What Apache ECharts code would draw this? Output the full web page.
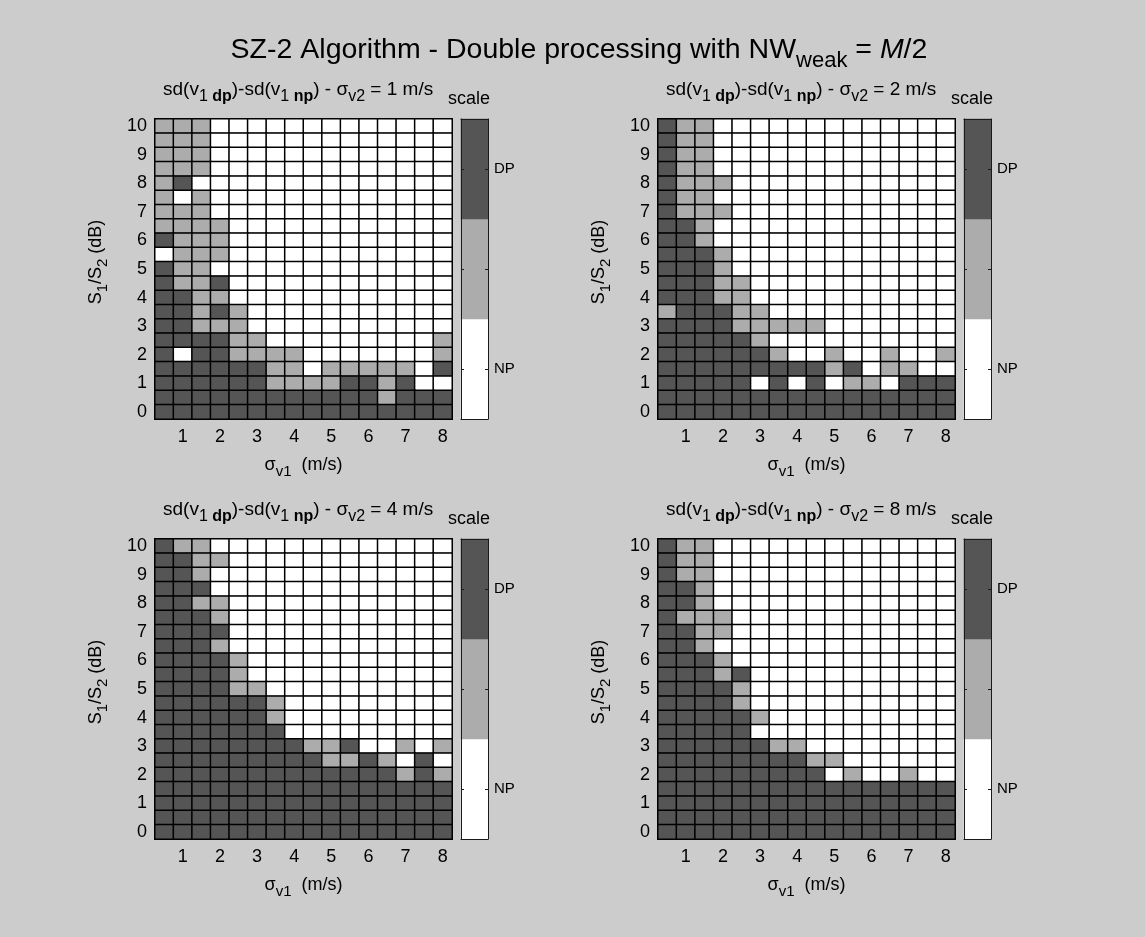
<!DOCTYPE html>
<html>
<head>
<meta charset="utf-8">
<script src="https://cdn.jsdelivr.net/npm/echarts@6/dist/echarts.min.js"></script>
<style>
  html, body { margin: 0; padding: 0; background: #cccccc; }
  #chart { width: 1145px; height: 937px; }
</style>
</head>
<body>
<div id="chart"></div>
<script>
// Grid axes: sigma_v1 (m/s) across, S1/S2 (dB) up
const sigmaV1 = ['0.5','1','1.5','2','2.5','3','3.5','4','4.5','5','5.5','6','6.5','7','7.5','8'];
const snrDb = ['0','0.5','1','1.5','2','2.5','3','3.5','4','4.5','5','5.5','6','6.5','7','7.5','8','8.5','9','9.5','10'];
const sigmaV2 = [1, 2, 4, 8];
const scaleLabels = ['NP', '', 'DP'];   // colour-bar levels, bottom to top
const scaleLevels = [0, 1, 2];          // 0 = NP, 1 = between, 2 = DP

// Each map: rows from S1/S2 = 10 dB (top) down to 0 dB; columns sigma_v1 = 0.5 ... 8 m/s
const mapSv2_1 = [
  [1,1,1,0,0,0,0,0,0,0,0,0,0,0,0,0],
  [1,1,1,0,0,0,0,0,0,0,0,0,0,0,0,0],
  [1,1,1,0,0,0,0,0,0,0,0,0,0,0,0,0],
  [1,1,1,0,0,0,0,0,0,0,0,0,0,0,0,0],
  [1,2,0,0,0,0,0,0,0,0,0,0,0,0,0,0],
  [1,0,1,0,0,0,0,0,0,0,0,0,0,0,0,0],
  [1,1,1,0,0,0,0,0,0,0,0,0,0,0,0,0],
  [1,1,1,1,0,0,0,0,0,0,0,0,0,0,0,0],
  [2,1,1,1,0,0,0,0,0,0,0,0,0,0,0,0],
  [0,1,1,1,0,0,0,0,0,0,0,0,0,0,0,0],
  [2,1,1,0,0,0,0,0,0,0,0,0,0,0,0,0],
  [2,1,1,2,0,0,0,0,0,0,0,0,0,0,0,0],
  [2,2,1,1,0,0,0,0,0,0,0,0,0,0,0,0],
  [2,2,1,2,1,0,0,0,0,0,0,0,0,0,0,0],
  [2,2,1,1,1,0,0,0,0,0,0,0,0,0,0,0],
  [2,2,2,2,1,1,0,0,0,0,0,0,0,0,0,1],
  [2,0,2,2,1,1,1,1,0,0,0,0,0,0,0,1],
  [2,2,2,2,2,2,1,1,0,1,1,1,1,1,0,2],
  [2,2,2,2,2,2,1,1,1,1,2,2,1,2,0,0],
  [2,2,2,2,2,2,2,2,2,2,2,2,1,2,2,2],
  [2,2,2,2,2,2,2,2,2,2,2,2,2,2,2,2]
];
const mapSv2_2 = [
  [2,1,1,0,0,0,0,0,0,0,0,0,0,0,0,0],
  [2,1,1,0,0,0,0,0,0,0,0,0,0,0,0,0],
  [2,1,1,0,0,0,0,0,0,0,0,0,0,0,0,0],
  [2,1,1,0,0,0,0,0,0,0,0,0,0,0,0,0],
  [2,1,1,1,0,0,0,0,0,0,0,0,0,0,0,0],
  [2,1,1,0,0,0,0,0,0,0,0,0,0,0,0,0],
  [2,1,1,1,0,0,0,0,0,0,0,0,0,0,0,0],
  [2,2,1,0,0,0,0,0,0,0,0,0,0,0,0,0],
  [2,2,1,0,0,0,0,0,0,0,0,0,0,0,0,0],
  [2,2,2,1,0,0,0,0,0,0,0,0,0,0,0,0],
  [2,2,2,1,0,0,0,0,0,0,0,0,0,0,0,0],
  [2,2,2,1,1,0,0,0,0,0,0,0,0,0,0,0],
  [2,2,2,1,1,0,0,0,0,0,0,0,0,0,0,0],
  [1,2,2,2,1,1,0,0,0,0,0,0,0,0,0,0],
  [2,2,2,2,1,1,1,1,1,0,0,0,0,0,0,0],
  [2,2,2,2,2,1,0,0,0,0,0,0,0,0,0,0],
  [2,2,2,2,2,2,1,0,0,1,0,0,1,0,0,1],
  [2,2,2,2,2,2,2,2,2,1,2,0,1,1,0,0],
  [2,2,2,2,2,0,2,0,2,0,1,1,0,2,2,2],
  [2,2,2,2,2,2,2,2,2,2,2,2,2,2,2,2],
  [2,2,2,2,2,2,2,2,2,2,2,2,2,2,2,2]
];
const mapSv2_4 = [
  [2,1,1,0,0,0,0,0,0,0,0,0,0,0,0,0],
  [2,2,1,1,0,0,0,0,0,0,0,0,0,0,0,0],
  [2,2,1,0,0,0,0,0,0,0,0,0,0,0,0,0],
  [2,2,2,0,0,0,0,0,0,0,0,0,0,0,0,0],
  [2,2,1,1,0,0,0,0,0,0,0,0,0,0,0,0],
  [2,2,2,1,0,0,0,0,0,0,0,0,0,0,0,0],
  [2,2,2,2,0,0,0,0,0,0,0,0,0,0,0,0],
  [2,2,2,1,0,0,0,0,0,0,0,0,0,0,0,0],
  [2,2,2,2,1,0,0,0,0,0,0,0,0,0,0,0],
  [2,2,2,2,1,0,0,0,0,0,0,0,0,0,0,0],
  [2,2,2,2,1,1,0,0,0,0,0,0,0,0,0,0],
  [2,2,2,2,2,2,1,0,0,0,0,0,0,0,0,0],
  [2,2,2,2,2,2,1,0,0,0,0,0,0,0,0,0],
  [2,2,2,2,2,2,2,0,0,0,0,0,0,0,0,0],
  [2,2,2,2,2,2,2,2,1,1,2,0,0,1,0,1],
  [2,2,2,2,2,2,2,2,2,1,1,2,1,0,2,0],
  [2,2,2,2,2,2,2,2,2,2,2,2,2,1,2,1],
  [2,2,2,2,2,2,2,2,2,2,2,2,2,2,2,2],
  [2,2,2,2,2,2,2,2,2,2,2,2,2,2,2,2],
  [2,2,2,2,2,2,2,2,2,2,2,2,2,2,2,2],
  [2,2,2,2,2,2,2,2,2,2,2,2,2,2,2,2]
];
const mapSv2_8 = [
  [2,1,1,0,0,0,0,0,0,0,0,0,0,0,0,0],
  [2,1,1,0,0,0,0,0,0,0,0,0,0,0,0,0],
  [2,1,1,0,0,0,0,0,0,0,0,0,0,0,0,0],
  [2,2,1,0,0,0,0,0,0,0,0,0,0,0,0,0],
  [2,2,1,0,0,0,0,0,0,0,0,0,0,0,0,0],
  [2,1,1,1,0,0,0,0,0,0,0,0,0,0,0,0],
  [2,2,1,1,0,0,0,0,0,0,0,0,0,0,0,0],
  [2,2,1,0,0,0,0,0,0,0,0,0,0,0,0,0],
  [2,2,2,1,0,0,0,0,0,0,0,0,0,0,0,0],
  [2,2,2,1,2,0,0,0,0,0,0,0,0,0,0,0],
  [2,2,2,2,1,0,0,0,0,0,0,0,0,0,0,0],
  [2,2,2,2,1,0,0,0,0,0,0,0,0,0,0,0],
  [2,2,2,2,2,1,0,0,0,0,0,0,0,0,0,0],
  [2,2,2,2,2,0,0,0,0,0,0,0,0,0,0,0],
  [2,2,2,2,2,2,1,1,0,0,0,0,0,0,0,0],
  [2,2,2,2,2,2,2,2,1,1,0,0,0,0,0,0],
  [2,2,2,2,2,2,2,2,2,0,1,0,0,1,0,0],
  [2,2,2,2,2,2,2,2,2,2,2,2,2,2,2,2],
  [2,2,2,2,2,2,2,2,2,2,2,2,2,2,2,2],
  [2,2,2,2,2,2,2,2,2,2,2,2,2,2,2,2],
  [2,2,2,2,2,2,2,2,2,2,2,2,2,2,2,2]
];
const maps = [mapSv2_1, mapSv2_2, mapSv2_4, mapSv2_8];

// ---- layout & style ----
const FONT = 'Liberation Sans, Arial, Helvetica, sans-serif';
const COL_NP = '#ffffff', COL_MID = '#acacac', COL_DP = '#555555';
const panels = [
  { left: 155, top: 119, cbLeft: 461 },
  { left: 658, top: 119, cbLeft: 964 },
  { left: 155, top: 539, cbLeft: 461 },
  { left: 658, top: 539, cbLeft: 964 }
];
const GW = 297, GH = 300, CBW = 27;
const TICK_FS = 18;
const ASCENT = 0.84;   // top-of-box to baseline, as a fraction of font size

// text measurement for mixed-size (sub/superscript) labels
const mctx = document.createElement('canvas').getContext('2d');
function fontStr(s) {
  return (s.i ? 'italic ' : '') + (s.w ? 'bold ' : '') + s.s + 'px ' + FONT;
}
function measure(seg) { mctx.font = fontStr(seg); return mctx.measureText(seg.t).width; }

// segs: {t, s (size), b (baseline shift, +down), w (bold), i (italic)}; y given as baseline
function richLabel(segs, x, baseline, align, rotation) {
  const widths = segs.map(measure);
  const total = widths.reduce((a, b) => a + b, 0);
  let cx = align === 'left' ? 0 : (align === 'right' ? -total : -total / 2);
  const children = segs.map((seg, k) => {
    const el = {
      type: 'text',
      x: cx,
      y: (seg.b || 0) - ASCENT * seg.s,
      style: {
        text: seg.t,
        fill: '#000',
        fontSize: seg.s,
        fontFamily: FONT,
        fontWeight: seg.w ? 'bold' : 'normal',
        fontStyle: seg.i ? 'italic' : 'normal',
        align: 'left',
        verticalAlign: 'top'
      }
    };
    cx += widths[k];
    return el;
  });
  return { type: 'group', x: x, y: baseline, rotation: rotation || 0, children: children, silent: true };
}

const grids = [], xAxes = [], yAxes = [], series = [], graphics = [];

function heatData(rows) {
  const out = [];
  rows.forEach((row, r) => {
    const yi = rows.length - 1 - r;
    row.forEach((v, c) => out.push([c, yi, v]));
  });
  return out;
}

panels.forEach((p, i) => {
  // main map grid
  const gi = grids.length;
  grids.push({ left: p.left, top: p.top, width: GW, height: GH, containLabel: false });
  const xi = xAxes.length;
  xAxes.push({
    type: 'category', gridIndex: gi, data: sigmaV1, position: 'bottom',
    axisLine: { show: false }, axisTick: { show: false }, splitLine: { show: false },
    axisLabel: {
      interval: (idx, v) => Number(v) % 1 === 0,
      color: '#000', fontSize: TICK_FS, fontFamily: FONT, margin: 9
    }
  });
  const yi = yAxes.length;
  yAxes.push({
    type: 'category', gridIndex: gi, data: snrDb,
    axisLine: { show: false }, axisTick: { show: false }, splitLine: { show: false },
    axisLabel: {
      interval: (idx, v) => Number(v) % 1 === 0,
      color: '#000', fontSize: TICK_FS, fontFamily: FONT, margin: 8
    }
  });
  series.push({
    type: 'heatmap', xAxisIndex: xi, yAxisIndex: yi,
    data: heatData(maps[i]),
    itemStyle: { borderColor: '#000', borderWidth: 1.5 },
    emphasis: { disabled: true }, progressive: 0, silent: true
  });

  // colour bar grid
  const cg = grids.length;
  grids.push({ left: p.cbLeft, top: p.top, width: CBW, height: GH });
  const cx0 = xAxes.length;
  const frame = { show: true, lineStyle: { color: '#1a1a1a', width: 1 } };
  xAxes.push({ type: 'category', gridIndex: cg, data: ['s'], position: 'bottom', z: 5,
    axisLine: frame, axisTick: { show: false }, axisLabel: { show: false } });
  xAxes.push({ type: 'category', gridIndex: cg, data: ['s'], position: 'top', z: 5,
    axisLine: frame, axisTick: { show: false }, axisLabel: { show: false } });
  const cy0 = yAxes.length;
  yAxes.push({ type: 'category', gridIndex: cg, data: scaleLabels, position: 'right', z: 5,
    axisLine: frame,
    axisTick: { show: true, inside: true, length: 3, alignWithLabel: true, interval: 0, lineStyle: { color: '#1a1a1a' } },
    axisLabel: { interval: 0, color: '#000', fontSize: 15, fontFamily: FONT, margin: 6 } });
  yAxes.push({ type: 'category', gridIndex: cg, data: scaleLabels, position: 'left', z: 5,
    axisLine: frame,
    axisTick: { show: true, inside: true, length: 3, alignWithLabel: true, interval: 0, lineStyle: { color: '#1a1a1a' } },
    axisLabel: { show: false } });
  series.push({
    type: 'heatmap', xAxisIndex: cx0, yAxisIndex: cy0,
    data: scaleLevels.map((lv, k) => [0, k, lv]),
    itemStyle: { borderWidth: 0 },
    emphasis: { disabled: true }, progressive: 0, silent: true
  });

  // per-panel titles and axis names
  const cxMid = p.left + GW / 2;
  const dy = p.top - 119;
  graphics.push(richLabel([
    { t: 'sd(v', s: 19 }, { t: '1 ', s: 16, b: 6 }, { t: 'dp', s: 16, b: 6, w: true },
    { t: ')-sd(v', s: 19 }, { t: '1 ', s: 16, b: 6 }, { t: 'np', s: 16, b: 6, w: true },
    { t: ') - σ', s: 19 }, { t: 'v2', s: 16, b: 6 },
    { t: ' = ' + sigmaV2[i] + ' m/s', s: 19 }
  ], p.left + 8, 96 + dy, 'left'));
  graphics.push(richLabel([{ t: 'scale', s: 18 }], p.cbLeft - 13, 105 + dy, 'left'));
  graphics.push(richLabel([
    { t: 'σ', s: 18 }, { t: 'v1', s: 15, b: 6 }, { t: '  (m/s)', s: 18 }
  ], cxMid, 471 + dy, 'center'));
  graphics.push(richLabel([
    { t: 'S', s: 18 }, { t: '1', s: 15, b: 6 }, { t: '/S', s: 18 }, { t: '2', s: 15, b: 6 }, { t: ' (dB)', s: 18 }
  ], p.left - 53, 262 + dy, 'center', Math.PI / 2));
});

// figure title
graphics.push(richLabel([
  { t: 'SZ-2 Algorithm - Double processing with NW', s: 28.5 },
  { t: 'weak', s: 22, b: 8 },
  { t: ' = ', s: 28.5 }, { t: 'M', s: 28.5, i: true }, { t: '/2', s: 28.5 }
], 579, 60, 'center'));

const chart = echarts.init(document.getElementById('chart'), null, { renderer: 'canvas' });
chart.setOption({
  backgroundColor: '#cccccc',
  animation: false,
  grid: grids,
  xAxis: xAxes,
  yAxis: yAxes,
  visualMap: {
    type: 'piecewise', show: false, dimension: 2,
    seriesIndex: series.map((s, k) => k),
    pieces: [
      { value: 0, color: COL_NP },
      { value: 1, color: COL_MID },
      { value: 2, color: COL_DP }
    ]
  },
  series: series,
  graphic: graphics
});
</script>
</body>
</html>
